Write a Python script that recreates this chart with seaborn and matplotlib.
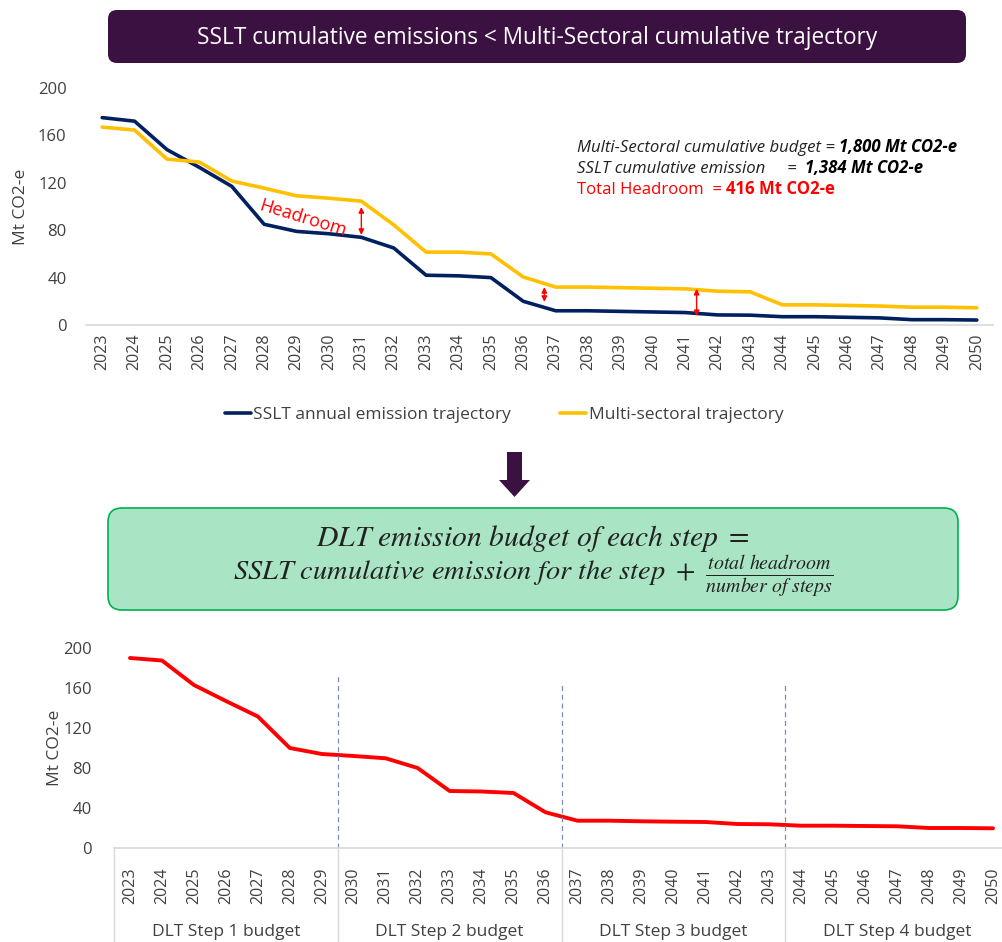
import numpy as np
import pandas as pd
import matplotlib
matplotlib.use("Agg")
import matplotlib.pyplot as plt
from matplotlib.patches import FancyBboxPatch, Polygon
import matplotlib.transforms as mtransforms
import seaborn as sns

sns.set_theme(style="white")
plt.rcParams["font.family"] = ["Open Sans", "DejaVu Sans"]
plt.rcParams["mathtext.fontset"] = "stix"

years = list(range(2023, 2051))

# SSLT annual emission trajectory (Mt CO2-e)
sslt = [175, 172, 148, 133, 117, 85, 79, 77, 74, 65, 42, 41.5, 40, 20,
        12, 12, 11.5, 11, 10.5, 8.5, 8.3, 7, 7, 6.5, 6, 4.5, 4.5, 4.2]

# Multi-sectoral trajectory (Mt CO2-e)
multi = [167, 164.5, 140, 137.5, 121.5, 115.5, 109, 107, 104.5, 84.5, 61.5, 61.5, 60, 40.5,
         32, 32, 31.5, 31, 30.5, 28.5, 28, 17, 17, 16.5, 16, 15, 15, 14.5]

# DLT budget trajectory (Mt CO2-e)
dlt = [190, 187.5, 163, 147, 131.5, 100, 94, 92, 89.7, 80, 57, 56.5, 55, 35.7,
       27.3, 27.3, 26.7, 26.3, 26, 24, 23.7, 22.3, 22.3, 22, 21.7, 20, 20, 19.7]

step_labels = ["DLT Step 1 budget", "DLT Step 2 budget", "DLT Step 3 budget", "DLT Step 4 budget"]
step_bounds = [2022.5, 2029.5, 2036.5, 2043.5, 2050.5]
step_dash_top = [175, 165, 165]

# headroom arrows: (year position, low, high)
headroom_arrows = [(2031, 76, 99.5), (2036.65, 19.5, 32), (2041.35, 7.5, 30.5)]

navy = "#002060"
yellow = "#FFC000"
red = "#FF0000"
grey_txt = "#404040"
axis_grey = "#D9D9D9"

W, H = 1002, 942
fig = plt.figure(figsize=(W / 100, H / 100), dpi=100)

# overlay in pixel coordinates for boxes, arrow and free text
bg = fig.add_axes([0, 0, 1, 1])
bg.set_xlim(0, W)
bg.set_ylim(H, 0)
bg.axis("off")
bg.patch.set_visible(False)
bg.set_zorder(5)

bg.add_patch(FancyBboxPatch((108, 10), 858, 53, boxstyle="round,pad=0,rounding_size=9",
                            fc="#3A1140", ec="none"))
bg.text(537, 38, "SSLT cumulative emissions < Multi-Sectoral cumulative trajectory",
        color="white", fontsize=16.3, ha="center", va="center")

# arrow down
bg.add_patch(Polygon([(507, 452), (522, 452), (522, 480), (530, 480), (514.5, 497),
                      (499, 480), (507, 480)], closed=True, fc="#3A1140", ec="none"))

bg.add_patch(FancyBboxPatch((108, 508), 850, 102, boxstyle="round,pad=0,rounding_size=14",
                            fc="#A9E4C4", ec="#00B050", lw=1.2))
bg.text(533, 538, r"$DLT\ emission\ budget\ of\ each\ step\ =$",
        fontsize=21.3, ha="center", va="center", color="#222222")
bg.text(533, 576, r"$SSLT\ cumulative\ emission\ for\ the\ step\ +\ \frac{total\ headroom}{number\ of\ steps}$",
        fontsize=20.4, ha="center", va="center", color="#222222")

# summary text block
t1 = bg.text(577, 148, "Multi-Sectoral cumulative budget = ", fontsize=12.1,
             style="italic", color="#222222", va="center")
bg.annotate("1,800 Mt CO2-e", xy=(1, 0), xycoords=t1, va="bottom", fontsize=12.1,
            style="italic", weight="bold", color="black")
t2 = bg.text(577, 169, "SSLT cumulative emission     =  ", fontsize=12.1,
             style="italic", color="#222222", va="center")
bg.annotate("1,384 Mt CO2-e", xy=(1, 0), xycoords=t2, va="bottom", fontsize=12.1,
            style="italic", weight="bold", color="black")
t3 = bg.text(577, 190, "Total Headroom  = ", fontsize=12.1, color=red, va="center")
bg.annotate("416 Mt CO2-e", xy=(1, 0), xycoords=t3, va="bottom", fontsize=12.1,
            weight="bold", color=red)

# ---------------- top chart ----------------
ax1 = fig.add_axes([86 / W, 1 - 325 / H, 907 / W, 237 / H])
ax1.patch.set_visible(False)
df_top = pd.DataFrame({"year": years * 2,
                       "value": sslt + multi,
                       "series": ["SSLT annual emission trajectory"] * len(years)
                                 + ["Multi-sectoral trajectory"] * len(years)})
sns.lineplot(data=df_top, x="year", y="value", hue="series",
             palette=[navy, yellow], linewidth=2.6, ax=ax1, legend=False)
ax1.set_xlim(2022.5, 2050.5)
ax1.set_ylim(0, 200)
ax1.set_yticks([0, 40, 80, 120, 160, 200])
ax1.set_xticks(years)
ax1.set_xticklabels([str(y) for y in years], rotation=90)
ax1.tick_params(axis="x", labelsize=11.5, colors=grey_txt, length=0, pad=6)
ax1.tick_params(axis="y", labelsize=12, colors=grey_txt, length=0, pad=14)
ax1.set_xlabel("")
ax1.set_ylabel("Mt CO2-e", fontsize=12.5, color=grey_txt, labelpad=6)
for s in ["top", "right", "left"]:
    ax1.spines[s].set_visible(False)
ax1.spines["bottom"].set_color(axis_grey)

ax1.text(2029.2, 90, "Headroom", color=red, fontsize=13, rotation=-17,
         ha="center", va="center")
for xa, lo, hi in headroom_arrows:
    ax1.annotate("", xy=(xa, lo), xytext=(xa, hi),
                 arrowprops=dict(arrowstyle="<|-|>", color=red, lw=1.0,
                                 mutation_scale=8, shrinkA=0, shrinkB=0))

handles = [plt.Line2D([], [], color=navy, lw=2.6), plt.Line2D([], [], color=yellow, lw=2.6)]
fig.legend(handles, ["SSLT annual emission trajectory", "Multi-sectoral trajectory"],
           loc="center", bbox_to_anchor=(504 / W, 1 - 415 / H), ncol=2, frameon=False,
           fontsize=12.5, handlelength=1.5, handletextpad=0.15, columnspacing=2.8,
           labelcolor=grey_txt)

# ---------------- bottom chart ----------------
ax2 = fig.add_axes([114 / W, 1 - 848 / H, 895 / W, 200 / H])
ax2.patch.set_visible(False)
sns.lineplot(x=years, y=dlt, color=red, linewidth=2.8, ax=ax2)
ax2.set_xlim(2022.5, 2050.5)
ax2.set_ylim(0, 200)
ax2.set_yticks([0, 40, 80, 120, 160, 200])
ax2.set_xticks(years)
ax2.set_xticklabels([str(y) for y in years], rotation=90)
ax2.tick_params(axis="x", labelsize=11.5, colors=grey_txt, length=0, pad=14)
ax2.tick_params(axis="y", labelsize=12, colors=grey_txt, length=0, pad=16)
ax2.set_ylabel("Mt CO2-e", fontsize=12.5, color=grey_txt, labelpad=0)
for s in ["top", "right", "left"]:
    ax2.spines[s].set_visible(False)
ax2.spines["bottom"].set_color(axis_grey)

for xb, top in zip(step_bounds[1:4], step_dash_top):
    ax2.plot([xb, xb], [0, top], ls=(0, (4, 3)), color="#8088B8", lw=0.9)

trans = mtransforms.blended_transform_factory(ax2.transData, ax2.transAxes)
for xb in step_bounds[:4]:
    ax2.plot([xb, xb], [0, -0.48], color=axis_grey, lw=1.0, transform=trans, clip_on=False)
for i, lab in enumerate(step_labels):
    xc = (step_bounds[i] + step_bounds[i + 1]) / 2
    ax2.text(xc, -0.42, lab, transform=trans, ha="center", va="center",
             fontsize=12.5, color=grey_txt)

fig.savefig("out.png", dpi=100)
